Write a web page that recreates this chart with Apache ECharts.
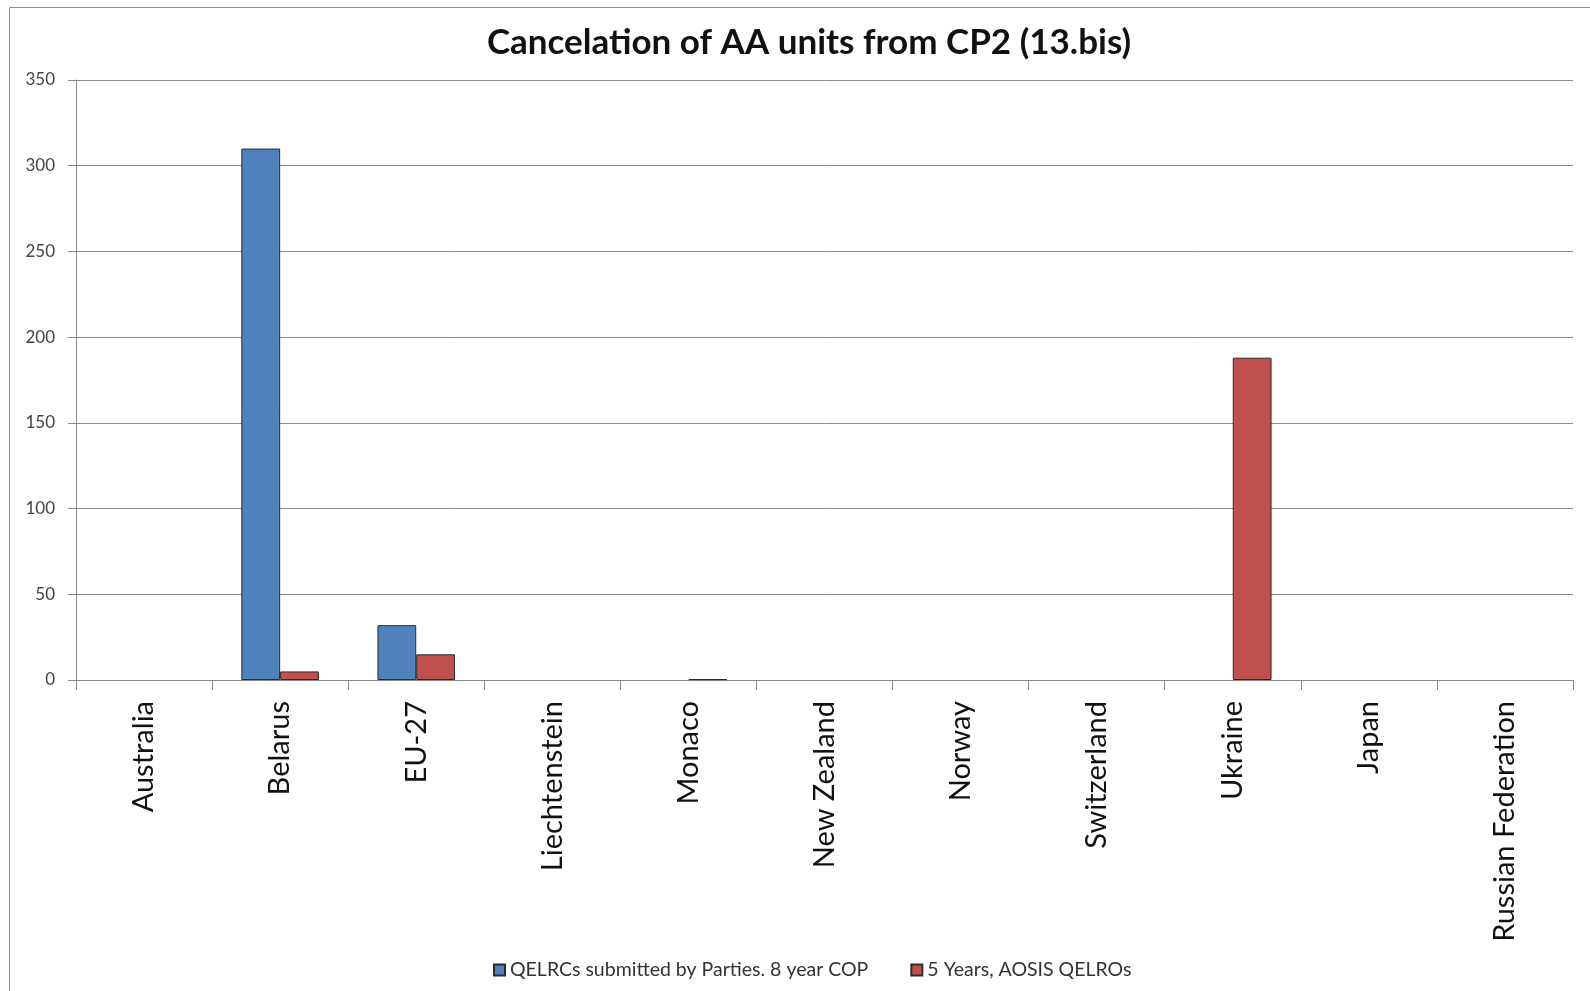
<!DOCTYPE html>
<html>
<head>
<meta charset="utf-8">
<script src="https://cdn.jsdelivr.net/npm/echarts@6/dist/echarts.min.js"></script>
<style>
  html, body { margin: 0; padding: 0; background: #fff; }
  #chart { width: 1590px; height: 991px; }
</style>
</head>
<body>
<div id="chart"></div>
<script>
// 国家 / 分类
const countries = ['Australia', 'Belarus', 'EU-27', 'Liechtenstein', 'Monaco', 'New Zealand',
  'Norway', 'Switzerland', 'Ukraine', 'Japan', 'Russian Federation'];
const seriesNames = ['QELRCs submitted by Parties. 8 year COP', '5 Years, AOSIS QELROs'];
const cop8Year = [0, 310, 32, 0, 0, 0, 0, 0, 0, 0, 0];
const aosis5Year = [0, 5, 15, 0, 0.5, 0, 0, 0, 188, 0, 0];
const yTicks = [0, 50, 100, 150, 200, 250, 300, 350];

const chart = echarts.init(document.getElementById('chart'));

const barStyle = (color) => ({
  color: color,
  borderColor: '#2b2b2b',
  borderWidth: 1
});

// 0 值不画柱子（Excel 里看不到）
const hideZero = (arr) => arr.map(v => (v === 0 ? '-' : v));

const option = {
  animation: false,
  backgroundColor: '#fff',
  title: {
    text: 'Cancelation of AA units from CP2 (13.bis)',
    left: 804,
    textAlign: 'center',
    top: 20,
    textStyle: {
      fontFamily: 'Lato',
      fontWeight: 'bold',
      fontSize: 35,
      color: '#111'
    }
  },
  // 外框
  graphic: [{
    type: 'rect',
    shape: { x: 9.5, y: 7.5, width: 1600, height: 1000 },
    style: { fill: 'none', stroke: '#8c8c8c', lineWidth: 1 },
    silent: true
  }],
  legend: {
    left: 488,
    top: 955,
    icon: 'rect',
    itemWidth: 11,
    itemHeight: 11,
    itemGap: 42,
    data: seriesNames,
    textStyle: {
      fontFamily: 'Lato',
      fontSize: 19.5,
      color: '#333'
    }
  },
  grid: {
    left: 76,
    right: 17,
    top: 80,
    bottom: 311,
    containLabel: false
  },
  xAxis: {
    type: 'category',
    data: countries,
    axisLine: { lineStyle: { color: '#888', width: 1 } },
    axisTick: { show: true, length: 10, alignWithLabel: false, lineStyle: { color: '#888' } },
    axisLabel: {
      rotate: 90,
      interval: 0,
      margin: 21,
      fontFamily: 'Lato',
      fontSize: 29,
      color: '#111'
    }
  },
  yAxis: {
    type: 'value',
    min: yTicks[0],
    max: yTicks[yTicks.length - 1],
    interval: 50,
    axisLine: { show: true, lineStyle: { color: '#888', width: 1 } },
    axisTick: { show: true, length: 8, lineStyle: { color: '#888' } },
    splitLine: { lineStyle: { color: '#8a8a8a', width: 1 } },
    axisLabel: {
      margin: 21,
      fontFamily: 'Lato',
      fontSize: 17,
      color: '#444'
    }
  },
  series: [
    {
      name: seriesNames[0],
      type: 'bar',
      data: hideZero(cop8Year),
      barGap: '0%',
      barCategoryGap: '43%',
      itemStyle: barStyle('#4f81bd')
    },
    {
      name: seriesNames[1],
      type: 'bar',
      data: hideZero(aosis5Year),
      barGap: '0%',
      barCategoryGap: '43%',
      itemStyle: barStyle('#c0504d')
    }
  ]
};

chart.setOption(option);
</script>
</body>
</html>
